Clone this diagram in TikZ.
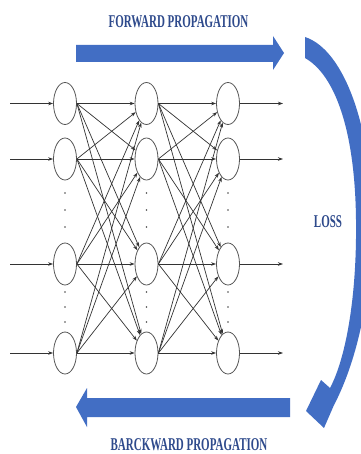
\documentclass[tikz,border=0pt]{standalone}
\usepackage{fontspec}
\usepackage{graphicx}
\setmainfont{Liberation Serif}
\usetikzlibrary{shapes.geometric,arrows.meta}
\definecolor{arrowblue}{RGB}{66,110,196}
\definecolor{textblue}{RGB}{46,74,140}
\definecolor{nodegray}{RGB}{85,85,85}
\begin{document}
\begin{tikzpicture}[x=1pt,y=-1pt,
  neuron/.style={ellipse,draw=nodegray,line width=0.8pt,minimum width=23pt,minimum height=42pt,inner sep=0pt,fill=white},
  link/.style={draw=black!80,line width=0.7pt,-{Stealth[length=5pt,width=3.5pt]}},
  titletext/.style={text=textblue,font=\bfseries\fontsize{18}{18}\selectfont,inner sep=0pt},
  bigarrow/.style={fill=arrowblue,draw=none},
  dotmark/.style={circle,fill=black!70,inner sep=0pt,minimum size=1.6pt}]
\fill[white] (0,0) rectangle (360,454);
\useasboundingbox (0,0) rectangle (360,454);
% neurons
\foreach \c/\x in {1/65,2/146.5,3/228}{
  \foreach \r/\y in {1/103.5,2/159,3/264,4/353}{
    \node[neuron] (n\c\r) at (\x,\y) {};
  }
  \foreach \yy in {193,210,227,292,307,322}{
    \node[dotmark] at (\x,\yy) {};
  }
}
% connections
\foreach \a in {1,2,3,4}{
  \foreach \b in {1,2,3,4}{
    \draw[link] (n1\a.east) -- (n2\b);
    \draw[link] (n2\a.east) -- (n3\b);
  }
}
% inputs and outputs
\foreach \r/\y in {1/103.5,2/159,3/264,4/353}{
  \coordinate (in\r) at (10,\y);
  \coordinate (out\r) at (283,\y);
  \draw[link] (in\r) -- (n1\r.west);
  \draw[link] (n3\r.east) -- (out\r);
}
% forward arrow
\fill[bigarrow] (76,45) -- (273,45) -- (273,36) -- (284,53) -- (273,70) -- (273,62) -- (76,62) -- cycle;
% backward arrow
\fill[bigarrow] (290,398) -- (87,398) -- (87,388) -- (76,407) -- (87,427) -- (87,417) -- (290,417) -- cycle;
% curved loss arrow
\fill[bigarrow] (305,58) .. controls (335,75) and (355,130) .. (356,220)
  .. controls (357,300) and (345,360) .. (330,388)
  -- (321,380) -- (306,411) -- (324,428) -- (334,405)
  .. controls (355,365) and (372,300) .. (372,220)
  .. controls (372,130) and (345,50) .. (305,37) -- cycle;
% texts
\node[titletext] (fwdtext) at (178.5,21.5) {\scalebox{0.61}[1]{FORWARD PROPAGATION}};
\node[titletext] (bwdtext) at (189,445) {\scalebox{0.61}[1]{BARCKWARD PROPAGATION}};
\node[titletext] (loss) at (328,222) {\scalebox{0.61}[1]{LOSS}};
\end{tikzpicture}
\end{document}
